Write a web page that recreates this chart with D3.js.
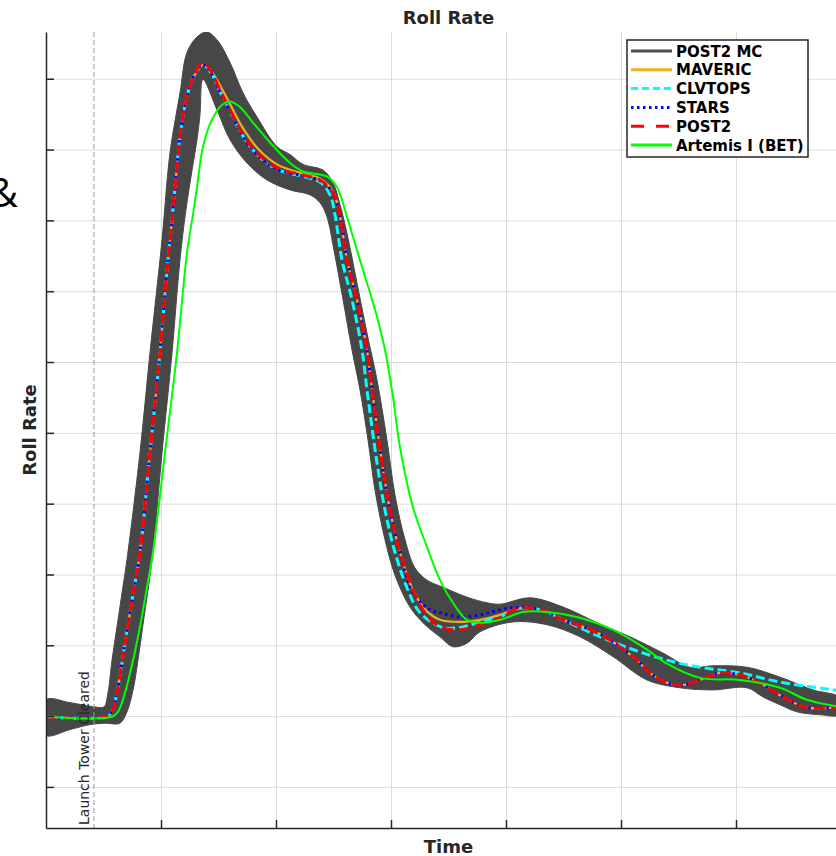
<!DOCTYPE html>
<meta charset="utf-8">
<style>

body {
    margin: 0;
    padding: 0;
    background: #fff;
}

svg {
    display: block;
    font-family: "DejaVu Sans", sans-serif;
}

.grid line {
    stroke: #dcdcdc; /* light MATLAB-style grid */
    stroke-width: 1;
}

.grid path {
    display: none;
}

.axis path, .axis line {
    stroke: #262626;
    stroke-width: 1.5;
}

</style>
<svg width="836" height="856"></svg>

<script src="https://cdnjs.cloudflare.com/ajax/libs/d3/7.8.5/d3.min.js"></script>

<script>
// ---- data: [time, roll rate] in axis units ----
var xTicks = [1, 2, 3, 4, 5, 6];
var yTicks = [0, 1, 2, 3, 4, 5, 6, 7, 8, 9, 10];
var towerTime = 0.417;

var seriesNames = ["POST2 MC", "MAVERIC", "CLVTOPS", "STARS", "POST2", "Artemis I (BET)"];

// Monte Carlo envelope (upper / left edge, then lower / right edge)
var mcUpper = [[0,1.23],[0.209,1.19],[0.426,1.13],[0.504,1.13],[0.539,1.33],[0.574,1.79],[0.617,2.26],[0.661,2.74],
    [0.704,3.21],[0.817,4.72],[0.904,6.13],[1.009,7.73],[1.078,8.95],[1.165,9.80],[1.226,10.37],[1.313,10.59],
    [1.4,10.66],[1.487,10.55],[1.6,10.23],[1.713,9.80],[1.835,9.46],[2.009,9.04],[2.122,8.93],[2.235,8.79],
    [2.409,8.71],[2.496,8.53],[2.557,8.22],[2.617,7.82],[2.704,7.12],[2.791,6.41],[2.878,5.75],[2.965,4.90],
    [3.035,4.12],[3.122,3.49],[3.209,3.09],[3.313,2.92],[3.452,2.82],[3.661,2.68],[3.835,2.60],[3.948,2.58],
    [4.209,2.67],[4.496,2.54],[4.791,2.32],[5.078,2.12],[5.365,1.89],[5.6,1.69],[5.8,1.71],[6.096,1.69],
    [6.383,1.55],[6.670,1.37],[6.9,1.26]];
var mcLower = [[0,0.73],[0.209,0.81],[0.383,0.88],[0.513,0.90],[0.643,0.90],[0.704,1.06],[0.757,1.37],[0.8,1.79],
    [0.843,2.29],[0.887,2.78],[0.930,3.31],[1.009,4.72],[1.096,6.13],[1.165,7.44],[1.217,8.15],[1.270,8.71],
    [1.313,9.14],[1.339,9.49],[1.365,9.99],[1.487,9.56],[1.6,9.14],[1.748,8.81],[1.922,8.57],[2.122,8.43],
    [2.296,8.36],[2.383,8.25],[2.443,8.05],[2.504,7.58],[2.583,6.88],[2.661,6.17],[2.730,5.61],[2.8,4.90],
    [2.861,4.19],[2.948,3.49],[3.035,2.99],[3.165,2.54],[3.296,2.29],[3.426,2.12],[3.539,1.98],[3.661,2.03],
    [3.774,2.19],[4.061,2.33],[4.357,2.29],[4.643,2.12],[4.930,1.84],[5.226,1.51],[5.513,1.40],[5.8,1.37],
    [6.096,1.40],[6.235,1.27],[6.383,1.16],[6.530,1.06],[6.730,1.02],[6.9,1.02]];

var maveric = [[0,0.99],[0.53,0.99],[0.574,1.06],[0.626,1.41],[0.687,2.03],[0.748,2.64],[0.817,3.31],[0.904,4.72],
    [0.991,6.13],[1.052,7.30],[1.096,8.01],[1.122,8.47],[1.165,9.18],[1.226,9.75],[1.296,10.06],[1.37,10.2],
    [1.46,10.05],[1.535,9.84],[1.62,9.58],[1.71,9.31],[1.85,9.0],[2.02,8.78],[2.235,8.66],[2.383,8.59],
    [2.496,8.41],[2.557,8.05],[2.617,7.44],[2.704,6.88],[2.791,6.17],[2.835,5.61],[2.922,4.58],[2.991,3.91],
    [3.078,3.31],[3.191,2.78],[3.30,2.50],[3.426,2.36],[3.6,2.33],[3.774,2.36],[3.948,2.43],[4.061,2.50],
    [4.209,2.53],[4.357,2.47],[4.496,2.36],[4.791,2.18],[5.104,1.84],[5.252,1.61],[5.4,1.47],[5.539,1.44],
    [5.687,1.51],[5.861,1.61],[6.035,1.58],[6.209,1.47],[6.409,1.27],[6.617,1.12],[6.9,1.13]];

var clvtops = [[0,0.99],[0.53,0.99],[0.574,1.06],[0.626,1.41],[0.687,2.03],[0.748,2.64],[0.817,3.31],[0.904,4.72],
    [0.991,6.13],[1.052,7.30],[1.096,8.01],[1.122,8.47],[1.165,9.18],[1.226,9.75],[1.296,10.08],[1.365,10.2],
    [1.443,10.06],[1.513,9.82],[1.6,9.54],[1.687,9.26],[1.835,8.93],[2.009,8.72],[2.235,8.62],[2.383,8.54],
    [2.47,8.36],[2.513,8.08],[2.574,7.44],[2.661,6.88],[2.748,6.17],[2.791,5.61],[2.878,4.58],[2.948,3.91],
    [3.035,3.31],[3.148,2.78],[3.252,2.46],[3.452,2.25],[3.626,2.26],[3.774,2.33],[3.948,2.40],[4.061,2.50],
    [4.209,2.53],[4.357,2.47],[4.496,2.36],[4.817,2.12],[5.104,1.94],[5.4,1.79],[5.687,1.69],[6.035,1.61],
    [6.383,1.48],[6.9,1.36]];

var stars = [[0,0.99],[0.53,0.99],[0.574,1.06],[0.626,1.41],[0.687,2.03],[0.748,2.64],[0.817,3.31],[0.904,4.72],
    [0.991,6.13],[1.052,7.30],[1.096,8.01],[1.122,8.47],[1.165,9.18],[1.226,9.75],[1.296,10.08],[1.365,10.2],
    [1.443,10.06],[1.513,9.82],[1.6,9.54],[1.687,9.26],[1.835,8.93],[2.009,8.72],[2.235,8.63],[2.383,8.56],
    [2.496,8.39],[2.557,8.05],[2.617,7.44],[2.704,6.88],[2.791,6.17],[2.835,5.61],[2.922,4.58],[2.991,3.91],
    [3.078,3.31],[3.191,2.74],[3.339,2.50],[3.426,2.46],[3.6,2.40],[3.774,2.43],[3.948,2.50],[4.061,2.53],
    [4.209,2.53],[4.357,2.47],[4.496,2.36],[4.791,2.18],[5.104,1.84],[5.252,1.61],[5.4,1.47],[5.539,1.44],
    [5.687,1.51],[5.861,1.61],[6.035,1.58],[6.209,1.47],[6.409,1.27],[6.617,1.12],[6.9,1.13]];

var post2 = [[0,0.99],[0.53,0.99],[0.574,1.06],[0.626,1.41],[0.687,2.03],[0.748,2.64],[0.817,3.31],[0.904,4.72],
    [0.991,6.13],[1.052,7.30],[1.096,8.01],[1.122,8.47],[1.165,9.18],[1.226,9.75],[1.296,10.08],[1.365,10.23],
    [1.443,10.08],[1.513,9.84],[1.6,9.56],[1.687,9.28],[1.835,8.95],[2.009,8.74],[2.235,8.64],[2.383,8.57],
    [2.496,8.39],[2.557,8.05],[2.617,7.44],[2.704,6.88],[2.791,6.17],[2.835,5.61],[2.922,4.58],[2.991,3.91],
    [3.078,3.31],[3.191,2.78],[3.278,2.50],[3.426,2.26],[3.6,2.22],[3.774,2.29],[3.948,2.39],[4.061,2.50],
    [4.209,2.53],[4.357,2.47],[4.496,2.36],[4.791,2.18],[5.104,1.84],[5.252,1.61],[5.4,1.47],[5.539,1.44],
    [5.687,1.51],[5.861,1.61],[6.035,1.58],[6.209,1.47],[6.409,1.27],[6.617,1.12],[6.9,1.13]];

var artemis = [[0,0.99],[0.574,0.99],[0.626,1.06],[0.687,1.33],[0.757,1.79],[0.817,2.26],[0.878,2.82],[0.930,3.31],
    [1.035,4.72],[1.139,6.13],[1.226,7.54],[1.278,8.08],[1.313,8.47],[1.365,9.04],[1.443,9.42],[1.530,9.63],
    [1.6,9.68],[1.687,9.60],[1.8,9.38],[1.948,9.10],[2.122,8.81],[2.235,8.69],[2.443,8.62],[2.530,8.47],
    [2.617,8.05],[2.704,7.58],[2.791,7.12],[2.878,6.64],[2.948,6.17],[3.017,5.51],[3.078,4.80],[3.191,3.95],
    [3.313,3.39],[3.426,2.92],[3.539,2.60],[3.661,2.36],[3.8,2.32],[3.948,2.36],[4.148,2.47],[4.357,2.47],
    [4.643,2.39],[4.930,2.22],[5.226,1.94],[5.4,1.74],[5.687,1.54],[6.035,1.51],[6.383,1.40],[6.617,1.23],[6.9,1.13]];

var seriesData = [maveric, clvtops, stars, post2, artemis];

// ---- styles per series ----
var styles = {
    "POST2 MC":        {color: "#474747", width: 3.5, dash: null, legendDash: null},
    "MAVERIC":         {color: "#EDB120", width: 2.2, dash: null, legendDash: null},
    "CLVTOPS":         {color: "#00FFFF", width: 3, dash: "9,4", legendDash: "7,4"},
    "STARS":           {color: "#0000FF", width: 3, dash: "2.5,3.5", legendDash: "2.5,3.5"},
    "POST2":           {color: "#FF0000", width: 3, dash: "11,6", legendDash: "13,12"},
    "Artemis I (BET)": {color: "#00FF00", width: 2, dash: null, legendDash: null}
};

var svg = d3.select("svg"),
    plotLeft = 46, plotRight = 851, plotTop = 32, plotBottom = 828;

var x = d3.scaleLinear().domain([0, 7]).range([plotLeft, plotRight]);
var y = d3.scaleLinear().domain([-0.58, 10.66]).range([plotBottom, plotTop]);

// clip to the plot box
svg.append("defs").append("clipPath").attr("id", "plotclip")
  .append("rect").attr("x", plotLeft).attr("y", plotTop)
    .attr("width", plotRight - plotLeft).attr("height", plotBottom - plotTop);

// grid lines
svg.append("g").attr("class", "grid")
    .attr("transform", "translate(" + plotLeft + ",0)")
    .call(d3.axisLeft(y).tickValues(yTicks).tickSize(-(plotRight - plotLeft)).tickFormat(""));
svg.append("g").attr("class", "grid")
    .attr("transform", "translate(0," + plotBottom + ")")
    .call(d3.axisBottom(x).tickValues(xTicks).tickSize(-(plotBottom - plotTop)).tickFormat(""));

var plot = svg.append("g").attr("clip-path", "url(#plotclip)");

// Monte Carlo band as a closed shape
var band = mcUpper.concat(mcLower.slice().reverse());
plot.append("path")
    .datum(band)
    .attr("fill", styles["POST2 MC"].color)
    .attr("stroke", styles["POST2 MC"].color)
    .attr("stroke-width", 1)
    .attr("d", d3.line()
        .x(function(d) { return x(d[0]); })
        .y(function(d) { return y(d[1]); })
        .curve(d3.curveCatmullRomClosed.alpha(0.5)));

// launch tower marker
svg.append("line")
    .attr("x1", x(towerTime)).attr("x2", x(towerTime))
    .attr("y1", plotTop).attr("y2", plotBottom)
    .attr("stroke", "#9a9a9a")
    .attr("stroke-width", 1)
    .attr("stroke-dasharray", "5,3");
svg.append("text")
    .attr("transform", "translate(" + (x(towerTime) - 5) + "," + (plotBottom - 3) + ") rotate(-90)")
    .attr("font-size", "14px")
    .attr("fill", "#262626")
    .text("Launch Tower Cleared");

// simulation / flight lines
var line = d3.line()
    .x(function(d) { return x(d[0]); })
    .y(function(d) { return y(d[1]); })
    .curve(d3.curveCatmullRom.alpha(0.5));

seriesData.forEach(function(data, i) {
    var s = styles[seriesNames[i + 1]];
    plot.append("path")
        .datum(data)
        .attr("fill", "none")
        .attr("stroke", s.color)
        .attr("stroke-width", s.width)
        .attr("stroke-dasharray", s.dash)
        .attr("d", line);
});

// axes (inward ticks, no labels)
svg.append("g").attr("class", "axis")
    .attr("transform", "translate(0," + plotBottom + ")")
    .call(d3.axisBottom(x).tickValues(xTicks).tickSize(-8).tickSizeOuter(0).tickFormat(""));
svg.append("g").attr("class", "axis")
    .attr("transform", "translate(" + plotLeft + ",0)")
    .call(d3.axisLeft(y).tickValues(yTicks).tickSize(-8).tickSizeOuter(0).tickFormat(""));

// legend
var legend = svg.append("g").attr("transform", "translate(627,40)");
legend.append("rect")
    .attr("width", 181).attr("height", 117)
    .attr("fill", "#fff")
    .attr("stroke", "#262626")
    .attr("stroke-width", 1.5);

seriesNames.forEach(function(name, i) {
    var s = styles[name];
    var ry = 11 + i * 18.8;
    legend.append("line")
        .attr("x1", 4).attr("x2", 45)
        .attr("y1", ry).attr("y2", ry)
        .attr("stroke", name == "POST2 MC" ? "#4d4d4d" : s.color)
        .attr("stroke-width", 3)
        .attr("stroke-dasharray", s.legendDash);
    legend.append("text")
        .attr("x", 49).attr("y", ry + 5.5)
        .attr("font-size", "15px")
        .attr("font-weight", "bold")
        .attr("fill", "#000")
        .text(name);
});

// titles
svg.append("text")
    .attr("x", (plotLeft + plotRight) / 2).attr("y", 24)
    .attr("text-anchor", "middle")
    .attr("font-size", "18px").attr("font-weight", "bold")
    .attr("fill", "#262626")
    .text("Roll Rate");
svg.append("text")
    .attr("x", (plotLeft + plotRight) / 2).attr("y", 853)
    .attr("text-anchor", "middle")
    .attr("font-size", "18px").attr("font-weight", "bold")
    .attr("fill", "#262626")
    .text("Time");
svg.append("text")
    .attr("transform", "translate(36," + ((plotTop + plotBottom) / 2) + ") rotate(-90)")
    .attr("text-anchor", "middle")
    .attr("font-size", "18px").attr("font-weight", "bold")
    .attr("fill", "#262626")
    .text("Roll Rate");

// stray glyph at the left edge of the source image
svg.append("text")
    .attr("x", 18).attr("y", 207)
    .attr("text-anchor", "end")
    .attr("font-family", "Open Sans, sans-serif")
    .attr("font-size", "40px")
    .attr("fill", "#000")
    .text("&");
</script>
